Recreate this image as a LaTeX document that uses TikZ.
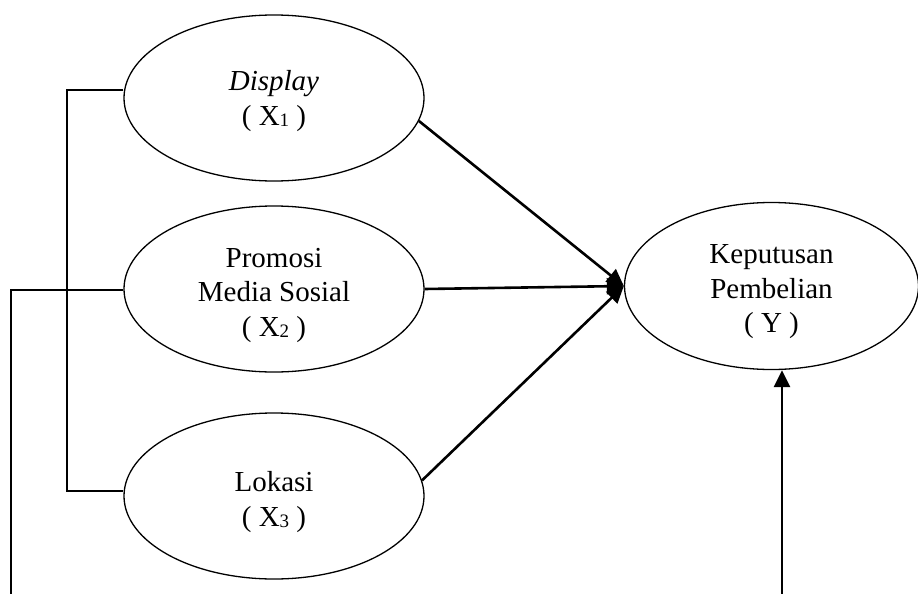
\documentclass[tikz,border=0pt]{standalone}
\usepackage{fontspec}
\setmainfont{Liberation Serif}
\usetikzlibrary{shapes.geometric,arrows.meta}
\newcommand\sbs[1]{{\fontsize{19}{19}\selectfont\raisebox{-1.5pt}{#1}}}
\begin{document}
\begin{tikzpicture}[x=1pt,y=-1pt,
  var/.style={ellipse, draw, line width=1.3pt, minimum width=300pt, minimum height=166pt, inner sep=0pt},
  lbl/.style={align=center, font=\fontsize{29}{34.5}\selectfont, inner sep=0pt},
  conn/.style={line width=1.5pt},
  arr/.style={line width=2.6pt, -{Triangle[length=17pt,width=16pt]}}]
\clip (0,0) rectangle (918,594);
\node[var] (x1) at (274,98) {};
\node[var] (x2) at (274,289) {};
\node[var] (x3) at (274,496) {};
\node[var, minimum width=294pt, minimum height=167pt] (y) at (771.5,286) {};
\node[lbl] (t1) at ([yshift=-3pt]x1.center) {\textit{Display}\\( X\sbs{1} )};
\node[lbl] (t2) at ([yshift=-6pt]x2.center) {Promosi\\Media Sosial\\( X\sbs{2} )};
\node[lbl] (t3) at ([yshift=-6pt]x3.center) {Lokasi\\( X\sbs{3} )};
\node[lbl] (ty) at ([yshift=-6pt]y.center) {Keputusan\\Pembelian\\( Y )};
\coordinate (b1) at (67,90);
\coordinate (b3) at (67,491);
\coordinate (o2) at (11,290);
\coordinate (o0) at (11,594);
\draw[conn] (x1.west |- b1) -- (b1) -- (b3) -- (x3.west |- b3);
\draw[conn] (x2.west |- o2) -- (o2) -- (o0);
\draw[arr] (x1.-9.5) -- (y.west);
\draw[arr] (x2.east) -- (y.west);
\draw[arr] (x3.6) -- (y.west);
\coordinate (yb) at (782,594);
\draw[arr] (yb) -- (yb |- y.south);
\end{tikzpicture}
\end{document}
